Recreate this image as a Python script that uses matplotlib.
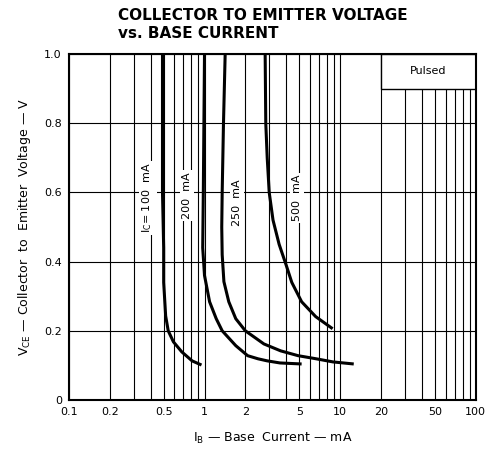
import matplotlib
matplotlib.use("Agg")
import matplotlib.pyplot as plt
from matplotlib.patches import Rectangle

# curvas (IB em mA, VCE em V)
ib_100 = [0.49, 0.49, 0.50, 0.50, 0.517, 0.54, 0.59, 0.68, 0.81, 0.95]
vce_100 = [1.0, 0.6, 0.44, 0.34, 0.243, 0.20, 0.168, 0.139, 0.113, 0.101]

ib_200 = [1.0, 0.98, 0.97, 1.0, 1.09, 1.22, 1.35, 1.7, 2.08, 2.48, 2.9,
          3.6, 5.2]
vce_200 = [1.0, 0.6, 0.44, 0.36, 0.284, 0.235, 0.20, 0.157, 0.128, 0.119,
           0.113, 0.107, 0.104]

ib_250 = [1.42, 1.38, 1.35, 1.34, 1.35, 1.39, 1.51, 1.70, 2.0, 2.74, 3.64,
          4.9, 6.66, 8.85, 12.6]
vce_250 = [1.0, 0.8, 0.6, 0.5, 0.42, 0.342, 0.284, 0.235, 0.20, 0.162, 0.142,
           0.128, 0.119, 0.11, 0.104]

ib_500 = [2.8, 2.83, 2.9, 3.0, 3.2, 3.55, 4.0, 4.4, 5.2, 6.6, 8.8]
vce_500 = [1.0, 0.8, 0.7, 0.6, 0.52, 0.45, 0.39, 0.34, 0.284, 0.241, 0.206]

curvas = [(ib_100, vce_100), (ib_200, vce_200),
          (ib_250, vce_250), (ib_500, vce_500)]

rotulos = [r"I$_\mathrm{C}$= 100  mA", "200  mA", "250  mA", "500  mA"]
rot_x = [0.38, 0.74, 1.73, 4.8]
rot_y = [0.584, 0.59, 0.57, 0.584]

x_ticks = [0.1, 0.2, 0.5, 1, 2, 5, 10, 20, 50, 100]
x_ticklabels = ["0.1", "0.2", "0.5", "1", "2", "5", "10", "20", "50", "100"]
y_ticks = [0, 0.2, 0.4, 0.6, 0.8, 1.0]
y_ticklabels = ["0", "0.2", "0.4", "0.6", "0.8", "1.0"]

fig = plt.figure(figsize=(4.92, 4.55), dpi=100)
ax = fig.add_axes([0.140, 0.121, 0.827, 0.760])

ax.set_xscale("log")
ax.set_xlim(0.1, 100)
ax.set_ylim(0, 1.0)

# grade: todas as linhas de decada e intermediarias
for dec in [0.1, 1, 10]:
    for k in range(1, 10):
        ax.axvline(dec * k, color="k", lw=0.8, zorder=1)
for v in y_ticks:
    ax.axhline(v, color="k", lw=0.8, zorder=1)

for ib, vce in curvas:
    ax.plot(ib, vce, color="k", lw=2.2, solid_capstyle="butt",
            solid_joinstyle="round", zorder=4)

for txt, x, y in zip(rotulos, rot_x, rot_y):
    ax.text(x, y, txt, rotation=90, ha="center", va="center", fontsize=8,
            zorder=3, bbox=dict(facecolor="white", edgecolor="none", pad=1.5))

# caixa "Pulsed"
ax.add_patch(Rectangle((20, 0.9), 80, 0.1, facecolor="white",
                       edgecolor="k", lw=1.0, zorder=5))
ax.text(44.7, 0.95, "Pulsed", ha="center", va="center", fontsize=8,
        zorder=6)

ax.set_xticks(x_ticks)
ax.set_xticklabels(x_ticklabels)
ax.xaxis.set_minor_locator(matplotlib.ticker.NullLocator())
ax.set_yticks(y_ticks)
ax.set_yticklabels(y_ticklabels)
ax.tick_params(length=0, labelsize=8, pad=5)

for s in ax.spines.values():
    s.set_linewidth(1.5)
    s.set_zorder(6)

ax.set_xlabel(r"I$_\mathrm{B}$ — Base  Current — mA", fontsize=9, labelpad=10)
ax.set_ylabel(r"V$_\mathrm{CE}$ — Collector  to  Emitter  Voltage — V",
              fontsize=9, labelpad=8)

fig.text(0.24, 0.966, "COLLECTOR TO EMITTER VOLTAGE", fontsize=11,
         fontweight="bold", ha="left", va="center")
fig.text(0.24, 0.926, "vs. BASE CURRENT", fontsize=11,
         fontweight="bold", ha="left", va="center")

fig.savefig("out.png", dpi=100)
